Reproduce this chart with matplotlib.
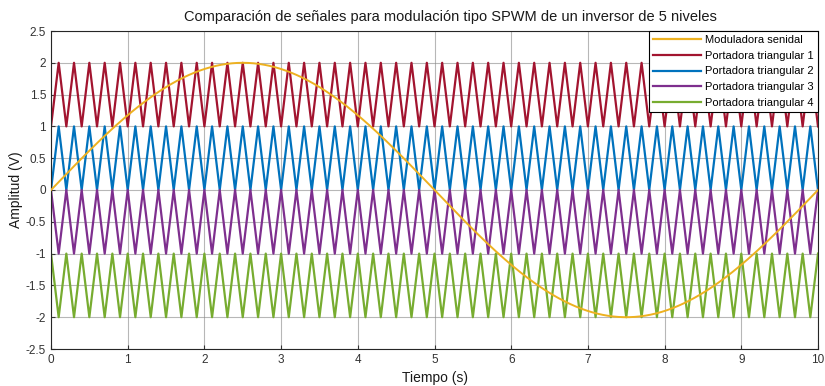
import numpy as np
import matplotlib
matplotlib.use("Agg")
import matplotlib.pyplot as plt

plt.rcParams['font.family'] = ['Liberation Sans', 'DejaVu Sans']

# ---- data ----
t_end = 10.0
mod_amplitude = 2.0          # modulating sine amplitude (V)
mod_period = 10.0            # modulating sine period (s)
carrier_period = 0.2         # triangular carrier period (s)
carrier_labels = ["Portadora triangular 1", "Portadora triangular 2",
                  "Portadora triangular 3", "Portadora triangular 4"]
carrier_start = [1.0, 0.0, 0.0, -1.0]   # value at t = 0
carrier_peak = [2.0, 1.0, -1.0, -2.0]   # value at half period
mod_label = "Moduladora senidal"
xticks = [0, 1, 2, 3, 4, 5, 6, 7, 8, 9, 10]
yticks = [-2.5, -2, -1.5, -1, -0.5, 0, 0.5, 1, 1.5, 2, 2.5]
ytick_labels = ["-2.5", "-2", "-1.5", "-1", "-0.5", "0", "0.5", "1", "1.5", "2", "2.5"]

colors = {
    "mod": (0.929, 0.694, 0.125),
    "c": [(0.635, 0.078, 0.184), (0.0, 0.447, 0.741),
          (0.494, 0.184, 0.556), (0.466, 0.674, 0.188)],
}

fig = plt.figure(figsize=(8.25, 3.86), dpi=100)
ax = fig.add_axes([51/825, 1-349/386, (818-51)/825, (349-31)/386])

# carriers: vertices every half period
n_half = int(round(t_end / (carrier_period / 2)))
tv = np.arange(n_half + 1) * (carrier_period / 2)
lines = []
for lab, s, p, c in zip(carrier_labels, carrier_start, carrier_peak, colors["c"]):
    yv = np.where(np.arange(n_half + 1) % 2 == 0, s, p)
    l, = ax.plot(tv, yv, color=c, lw=1.6, label=lab)
    lines.append(l)

ts = np.linspace(0, t_end, 1001)
lm, = ax.plot(ts, mod_amplitude * np.sin(2 * np.pi * ts / mod_period),
              color=colors["mod"], lw=1.4, label=mod_label, zorder=5)

ax.set_xlim(0, t_end)
ax.set_ylim(-2.5, 2.5)
ax.set_xticks(xticks)
ax.set_xticklabels([str(x) for x in xticks])
ax.set_yticks(yticks)
ax.set_yticklabels(ytick_labels)
ax.tick_params(direction='in', labelsize=8.5, colors='#333333', length=3)
ax.grid(True, color='#888888', lw=0.8, alpha=0.6)
ax.set_axisbelow(True)
for sp in ax.spines.values():
    sp.set_color('#262626')
    sp.set_linewidth(0.8)

fig.text(450/825, 1-17/386,
         "Comparación de señales para modulación tipo SPWM de un inversor de 5 niveles",
         fontsize=10.5, color='#1a1a1a', ha='center', va='center')
ax.set_xlabel("Tiempo (s)", fontsize=10, color='#1a1a1a', labelpad=4)
ax.set_ylabel("Amplitud (V)", fontsize=10, color='#1a1a1a', labelpad=2)

leg = ax.legend([lm] + lines, [mod_label] + carrier_labels, loc='upper right',
                fontsize=8, handlelength=4.3, borderaxespad=0.0,
                fancybox=False, framealpha=1, edgecolor='black',
                labelspacing=0.52, borderpad=0.35, handletextpad=0.4)
leg.get_frame().set_linewidth(0.8)
for h in leg.get_lines():
    h.set_linewidth(1.6)

fig.savefig("out.png", dpi=100)
